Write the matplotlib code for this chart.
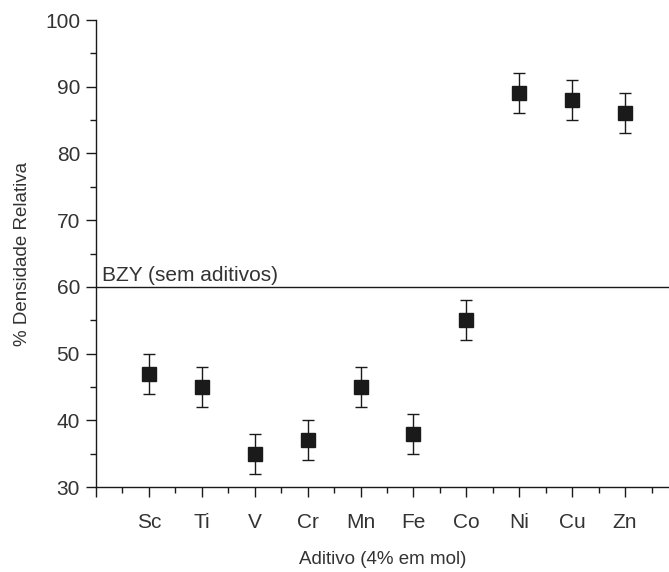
import numpy as np
import matplotlib
matplotlib.use("Agg")
import matplotlib.pyplot as plt
from matplotlib.ticker import MultipleLocator

plt.rcParams['font.family'] = ['Liberation Sans', 'DejaVu Sans']

# Data
aditivos = ["Sc", "Ti", "V", "Cr", "Mn", "Fe", "Co", "Ni", "Cu", "Zn"]
densidade = [47, 45, 35, 37, 45, 38, 55, 89, 88, 86]
erro = [3, 3, 3, 3, 3, 3, 3, 3, 3, 3]
bzy_ref = 60

txt = "#333333"
fig = plt.figure(figsize=(6.69, 5.72), dpi=100)
ax = fig.add_axes([0.1435, 0.1486, 0.8565, 0.8164])

x = np.arange(1, len(aditivos) + 1)
ax.errorbar(x, densidade, yerr=erro, fmt="s", color="#1a1a1a", ms=10,
            ecolor="#1a1a1a", elinewidth=1, capsize=4.5, capthick=1)
ax.axhline(bzy_ref, color="#1a1a1a", lw=1)
ax.text(0.12, bzy_ref + 0.3, "BZY (sem aditivos)", fontsize=15, color=txt,
        ha="left", va="bottom")

ax.set_xlim(0, 10.83)
ax.set_ylim(30, 100)
ax.set_xticks(np.arange(0, 11))
ax.set_xticklabels([""] + aditivos)
ax.xaxis.set_minor_locator(MultipleLocator(0.5))
ax.yaxis.set_major_locator(MultipleLocator(10))
ax.yaxis.set_minor_locator(MultipleLocator(5))

for s in ["top", "right"]:
    ax.spines[s].set_visible(False)
for s in ["left", "bottom"]:
    ax.spines[s].set_linewidth(1)
    ax.spines[s].set_color("#1a1a1a")

ax.tick_params(which="major", length=7.5, width=1, color="#1a1a1a",
               labelsize=15, labelcolor=txt)
ax.tick_params(axis="x", which="major", pad=11)
ax.tick_params(axis="y", which="major", pad=4)
ax.tick_params(which="minor", length=4.5, width=1, color="#1a1a1a")

ax.set_xlabel("Aditivo (4% em mol)", fontsize=13.5, color=txt, labelpad=14)
ax.set_ylabel("% Densidade Relativa", fontsize=13.5, color=txt, labelpad=10)

fig.savefig("out.png", dpi=100)
